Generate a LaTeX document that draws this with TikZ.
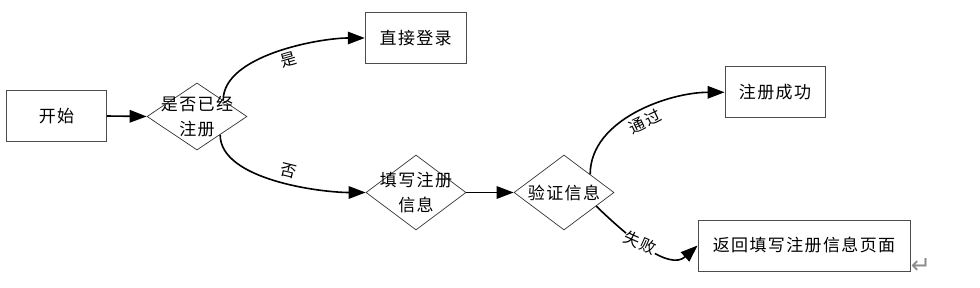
\documentclass[tikz,border=0pt]{standalone}
\usepackage{fontspec}
\newfontfamily\cjk[LetterSpace=8]{Noto Sans CJK SC}
\newfontfamily\symfont{DejaVu Sans}
\usetikzlibrary{shapes.geometric,arrows.meta,calc}
\begin{document}
\begin{tikzpicture}[x=1pt,y=1pt,
  box/.style={draw=black!70, line width=0.9pt, minimum width=100pt, minimum height=51pt, inner sep=0pt, font=\cjk\fontsize{17}{24}\selectfont},
  dia/.style={diamond, draw=black!80, line width=0.7pt, inner sep=0pt, minimum width=100pt, minimum height=75pt},
  txt/.style={font=\cjk\fontsize{17}{25}\selectfont, align=center, inner sep=0pt},
  lbl/.style={font=\cjk\fontsize{16}{16}\selectfont, fill=white, inner sep=0.5pt},
  flow/.style={line width=1.6pt, -{Triangle[length=17pt,width=12.5pt]}}]
\useasboundingbox (0,0) rectangle (980,287);

\node[box] (start) at (56.5,171) {开始};
\node[dia, minimum height=67pt] (d1) at (197,170.5) {};
\node[txt] (d1t) at (d1) {是否已经\\注册};
\node[box, minimum width=101pt] (login) at (415.7,249) {直接登录};
\node[dia] (d2) at (416,94.5) {};
\node[txt] (d2t) at (d2) {填写注册\\信息};
\node[dia] (d3) at (564,94.5) {};
\node[txt] (d3t) at (d3) {验证信息};
\node[box] (ok) at (775,194.7) {注册成功};
\node[box, minimum width=212pt] (back) at (804,41.5) {返回填写注册信息页面};
\node[font=\symfont\fontsize{24}{24}\selectfont, text=black!45, inner sep=0pt] (ret) at (921,21) {↵};

\coordinate (a1) at ($(d1.north)!0.52!(d1.east)$);
\coordinate (a2) at ($(d1.south)!0.46!(d1.east)$);
\coordinate (a3) at ($(d3.north)!0.52!(d3.east)$);
\coordinate (a4) at ($(d3.south)!0.64!(d3.east)$);

\draw[flow] (start.east) -- (d1.west);
\draw[flow] (a1) .. controls +(0,45) and +(-45,0) .. (login.west)
  node[lbl, sloped, pos=0.55, below=2pt] (lyes) {是};
\draw[flow] (a2) .. controls +(0,-45) and +(-45,0) .. (d2.west)
  node[lbl, sloped, pos=0.55, above=4pt] (lno) {否};
\draw[flow] (d2.east) -- (d3.west);
\draw[flow] (a3) .. controls +(0,55) and +(-55,0) .. (ok.west)
  node[lbl, sloped, pos=0.52, below=3pt] (lpass) {通过};
\draw[flow] (a4) .. controls +(34,-33) and +(-28,-25.5) .. (back.west)
  node[lbl, rotate=-24, pos=0.42] (lfail) {失败};
\end{tikzpicture}
\end{document}
